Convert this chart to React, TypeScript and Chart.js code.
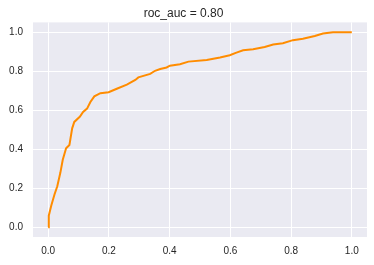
import React, { useEffect, useRef } from "react";
import { Chart, registerables } from "chart.js";

Chart.register(...registerables);

const fpr = [0, 0.002, 0.01, 0.021, 0.03, 0.04, 0.048, 0.059, 0.07, 0.079, 0.086, 0.104, 0.115, 0.128, 0.139, 0.152, 0.172, 0.199, 0.226, 0.259, 0.287, 0.297, 0.336, 0.352, 0.369, 0.39, 0.401, 0.434, 0.462, 0.522, 0.566, 0.598, 0.62, 0.642, 0.675, 0.713, 0.741, 0.773, 0.806, 0.839, 0.878, 0.905, 0.938, 1.0];
const tpr = [0, 0.059, 0.11, 0.169, 0.21, 0.279, 0.346, 0.405, 0.422, 0.507, 0.54, 0.566, 0.591, 0.608, 0.642, 0.671, 0.687, 0.692, 0.71, 0.731, 0.755, 0.768, 0.786, 0.802, 0.811, 0.819, 0.828, 0.836, 0.849, 0.857, 0.87, 0.882, 0.895, 0.907, 0.912, 0.924, 0.937, 0.943, 0.959, 0.966, 0.98, 0.993, 1.0, 1.0];
const tickValues = [0, 0.2, 0.4, 0.6, 0.8, 1.0];
const titleText = "roc_auc = 0.80";

export default function App() {
  const ref = useRef<HTMLCanvasElement | null>(null);
  useEffect(() => {
    document.body.style.margin = "0";
    const ctx = ref.current!;
    const font = { family: "'Liberation Sans', Arial, sans-serif" };
    const chart = new Chart(ctx, {
      type: "scatter",
      data: {
        datasets: [
          {
            data: fpr.map((x, i) => ({ x, y: tpr[i] })),
            showLine: true,
            borderColor: "#ff8c00",
            borderWidth: 2,
            pointRadius: 0,
            tension: 0,
          },
        ],
      },
      plugins: [
        {
          id: "bg",
          beforeDraw(c: any) {
            const a = c.chartArea;
            c.ctx.save();
            c.ctx.fillStyle = "#eaeaf2";
            c.ctx.fillRect(a.left, a.top, a.right - a.left, a.bottom - a.top);
            c.ctx.restore();
          },
        },
      ],
      options: {
        animation: false,
        responsive: false,
        layout: { padding: { right: 7, left: 0, bottom: 0, top: 0 } },
        plugins: {
          legend: { display: false },
          tooltip: { enabled: false },
          title: {
            display: true,
            text: titleText,
            color: "#262626",
            font: { ...font, size: 12, weight: "normal" },
            padding: { top: 6, bottom: 2 },
          },
        },
        scales: {
          x: {
            type: "linear",
            min: -0.05,
            max: 1.05,
            afterBuildTicks: (s: any) => {
              s.ticks = tickValues.map((v) => ({ value: v }));
            },
            afterFit: (s: any) => {
              s.height = 28;
            },
            grid: { color: "#ffffff", lineWidth: 1, drawTicks: false },
            border: { display: false },
            ticks: {
              color: "#262626",
              font: { ...font, size: 10 },
              padding: 8,
              callback: (v: any) => Number(v).toFixed(1),
            },
          },
          y: {
            type: "linear",
            min: -0.05,
            max: 1.05,
            afterBuildTicks: (s: any) => {
              s.ticks = tickValues.map((v) => ({ value: v }));
            },
            afterFit: (s: any) => {
              s.width = 33;
            },
            grid: { color: "#ffffff", lineWidth: 1, drawTicks: false },
            border: { display: false },
            ticks: {
              color: "#262626",
              font: { ...font, size: 10 },
              padding: 10,
              callback: (v: any) => Number(v).toFixed(1),
            },
          },
        },
      },
    } as any);
    return () => chart.destroy();
  }, []);
  return (
    <div style={{ width: 374, height: 265, background: "#ffffff" }}>
      <canvas ref={ref} width={374} height={265} />
    </div>
  );
}
